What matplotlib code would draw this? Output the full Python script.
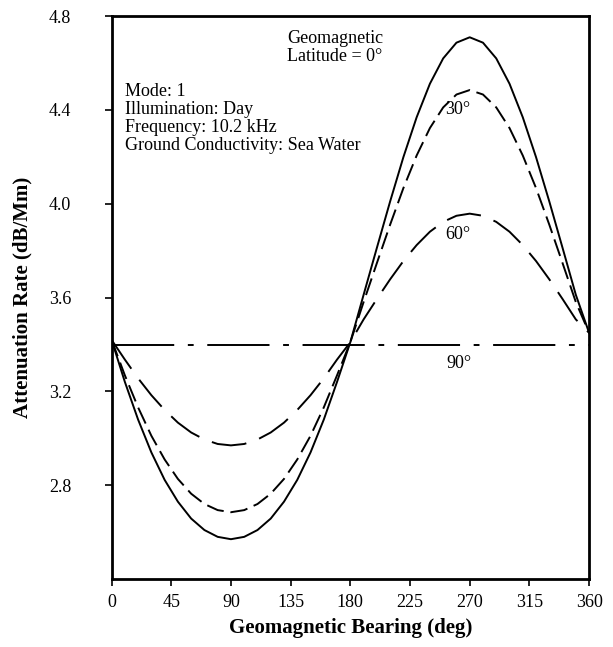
import matplotlib
matplotlib.use("Agg")
import matplotlib.pyplot as plt

# Geomagnetic bearing (deg)
bearing = [0, 10, 20, 30, 40, 50, 60, 70, 80, 90, 100, 110, 120, 130, 140, 150, 160, 170, 180,
           190, 200, 210, 220, 230, 240, 250, 260, 270, 280, 290, 300, 310, 320, 330, 340, 350, 360]

# Attenuation rate (dB/Mm) for each geomagnetic latitude
lat0 = [3.42, 3.241, 3.080, 2.940, 2.823, 2.730, 2.658, 2.609, 2.580, 2.570, 2.580, 2.609, 2.658,
        2.730, 2.823, 2.940, 3.080, 3.241, 3.41,
        3.612, 3.812, 4.010, 4.199, 4.369, 4.512, 4.620, 4.687, 4.710, 4.687, 4.620, 4.512,
        4.369, 4.199, 4.010, 3.812, 3.612, 3.45]
lat30 = [3.42, 3.269, 3.132, 3.011, 2.910, 2.827, 2.764, 2.720, 2.694, 2.685, 2.694, 2.720, 2.764,
         2.827, 2.910, 3.011, 3.132, 3.269, 3.41,
         3.581, 3.747, 3.911, 4.067, 4.206, 4.323, 4.411, 4.466, 4.485, 4.466, 4.411, 4.323,
         4.206, 4.067, 3.911, 3.747, 3.581, 3.45]
lat60 = [3.42, 3.336, 3.256, 3.184, 3.121, 3.067, 3.025, 2.995, 2.976, 2.970, 2.976, 2.995, 3.025,
         3.067, 3.121, 3.184, 3.256, 3.336, 3.41,
         3.507, 3.594, 3.678, 3.756, 3.824, 3.881, 3.923, 3.949, 3.958, 3.949, 3.923, 3.881,
         3.824, 3.756, 3.678, 3.594, 3.507, 3.45]
lat90_x = [0, 360]
lat90 = [3.40, 3.40]

xticks = [0, 45, 90, 135, 180, 225, 270, 315, 360]
yticks = [2.8, 3.2, 3.6, 4.0, 4.4, 4.8]

plt.rcParams['font.family'] = ['Liberation Serif', 'DejaVu Serif']

fig = plt.figure(figsize=(6.13, 6.47), dpi=100)
ax = fig.add_axes([0.182, 0.105, 0.779, 0.870])

ax.plot(bearing, lat0, color='black', lw=1.4, linestyle='-')
ax.plot(bearing, lat30, color='black', lw=1.4, linestyle=(0, (9, 3.5)))
ax.plot(bearing, lat60, color='black', lw=1.4, linestyle=(0, (18, 7)))
ax.plot(lat90_x, lat90, color='black', lw=1.4, linestyle=(0, (32, 7, 3, 7)))

ax.set_xlim(0, 360)
ax.set_ylim(2.4, 4.8)
ax.set_xticks(xticks)
ax.set_yticks(yticks)
ax.set_xticklabels([str(t) for t in xticks])
ax.set_yticklabels([f"{t:.1f}" for t in yticks])
ax.tick_params(direction='out', length=5, width=1.2, labelsize=13)
ax.tick_params(axis='y', pad=24)
ax.tick_params(axis='x', pad=6)

for s in ax.spines.values():
    s.set_linewidth(2)

ax.set_xlabel('Geomagnetic Bearing (deg)', fontsize=15, fontweight='bold', labelpad=5)
ax.set_ylabel('Attenuation Rate (dB/Mm)', fontsize=15, fontweight='bold', labelpad=12)

ax.text(0.468, 0.975, 'Geomagnetic\nLatitude = 0°', transform=ax.transAxes, ha='center', va='top',
        fontsize=13, linespacing=1.05)
ax.text(0.028, 0.882, 'Mode: 1\nIllumination: Day\nFrequency: 10.2 kHz\nGround Conductivity: Sea Water',
        transform=ax.transAxes, ha='left', va='top', fontsize=13, linespacing=1.1)

ax.text(261, 4.40, '30°', ha='center', va='center', fontsize=13)
ax.text(261, 3.87, '60°', ha='center', va='center', fontsize=13)
ax.text(262, 3.32, '90°', ha='center', va='center', fontsize=13)

fig.savefig('out.png', dpi=100)
